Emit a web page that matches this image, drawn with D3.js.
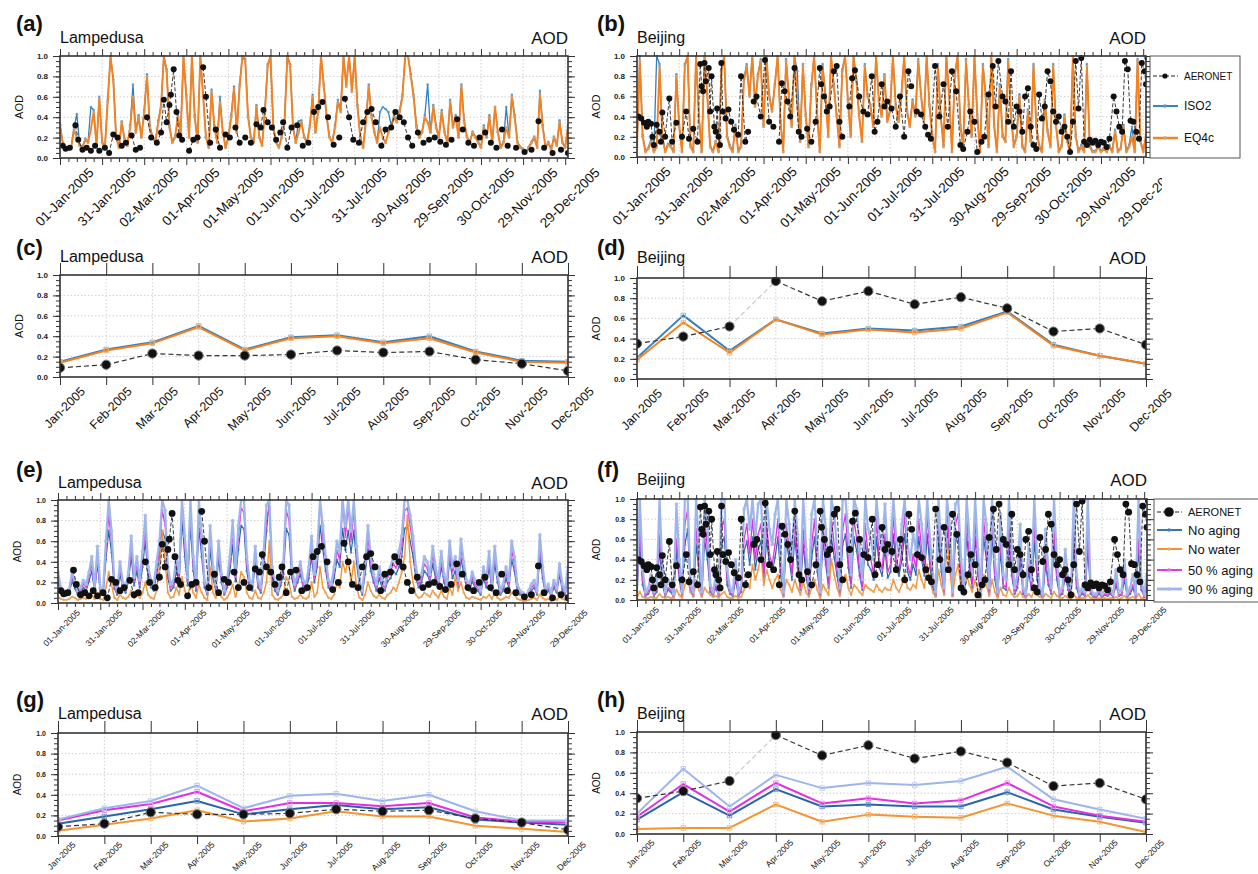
<!DOCTYPE html>
<html><head><meta charset="utf-8">
<script src="https://cdn.jsdelivr.net/npm/d3@7"></script>
<style>
body{margin:0;background:#fff}
svg{display:block}
text{font-family:"Liberation Sans",Arial,Helvetica,sans-serif}
</style></head>
<body><svg id="c" width="1258" height="874"></svg>
<script>
// ---------------- DATA ----------------
const months = ["Jan-2005","Feb-2005","Mar-2005","Apr-2005","May-2005","Jun-2005","Jul-2005","Aug-2005","Sep-2005","Oct-2005","Nov-2005","Dec-2005"];
const tickDays = [1,31,61,91,121,151,181,211,241,271,301,331,361];
const tickDates = ["01-Jan-2005","31-Jan-2005","02-Mar-2005","01-Apr-2005","01-May-2005","01-Jun-2005","01-Jul-2005","31-Jul-2005","30-Aug-2005","29-Sep-2005","30-Oct-2005","29-Nov-2005","29-Dec-2005"];
const yTicks = [0,0.2,0.4,0.6,0.8,1.0];

// Monthly means
const lampAeronetMonthly = [0.09,0.12,0.23,0.21,0.21,0.22,0.26,0.24,0.25,0.17,0.13,0.06];
const lampISO2Monthly    = [0.15,0.27,0.34,0.50,0.27,0.39,0.41,0.34,0.40,0.25,0.16,0.15];
const lampEQ4cMonthly    = [0.14,0.26,0.33,0.49,0.26,0.38,0.40,0.33,0.38,0.24,0.15,0.14];
const beijAeronetMonthly = [0.35,0.42,0.52,0.97,0.77,0.87,0.74,0.81,0.70,0.47,0.50,0.34];
const beijAeronetFaintSegments = [2];
const beijISO2Monthly    = [0.21,0.63,0.28,0.59,0.45,0.50,0.48,0.52,0.67,0.34,0.23,0.15];
const beijEQ4cMonthly    = [0.19,0.56,0.26,0.59,0.44,0.49,0.46,0.50,0.66,0.33,0.23,0.15];

const lampNoAgingMonthly  = [0.12,0.19,0.26,0.34,0.21,0.26,0.30,0.26,0.28,0.16,0.13,0.11];
const lampNoWaterMonthly  = [0.05,0.11,0.17,0.25,0.14,0.17,0.24,0.19,0.19,0.10,0.07,0.04];
const lampAging50Monthly  = [0.15,0.25,0.31,0.43,0.24,0.32,0.32,0.29,0.32,0.18,0.14,0.13];
const lampAging90Monthly  = [0.16,0.27,0.34,0.49,0.27,0.39,0.41,0.34,0.40,0.24,0.15,0.15];
const beijNoAgingMonthly  = [0.14,0.41,0.18,0.44,0.27,0.29,0.27,0.27,0.41,0.24,0.17,0.11];
const beijNoWaterMonthly  = [0.05,0.06,0.06,0.29,0.12,0.19,0.17,0.16,0.30,0.18,0.12,0.02];
const beijAging50Monthly  = [0.17,0.49,0.22,0.50,0.30,0.35,0.30,0.33,0.50,0.27,0.18,0.12];
const beijAging90Monthly  = [0.20,0.64,0.27,0.58,0.45,0.50,0.48,0.52,0.66,0.34,0.24,0.15];

// Daily model values, every second day (day 1,3,5,...,365)
const lampEQ4cDaily = [
0.32,0.14,0.09,0.08,0.10,0.28,0.20,0.12,0.10,0.18,0.15,0.28,0.45,0.12,0.58,
0.15,0.10,0.55,1.00,0.75,0.20,0.10,0.35,0.18,0.12,0.30,0.60,0.25,0.40,0.20,
0.45,0.80,0.30,0.20,0.15,0.35,0.50,1.00,0.85,0.30,0.15,0.20,0.40,0.25,1.00,
0.60,0.20,1.00,0.40,0.15,1.00,0.60,0.20,0.10,0.65,0.30,0.15,0.55,0.25,0.10,
0.20,0.40,0.68,0.25,0.70,1.00,0.95,0.40,0.20,0.15,0.50,0.20,0.12,0.45,0.90,
1.00,0.30,0.15,0.10,0.20,0.35,1.00,0.90,0.30,0.15,0.25,0.35,0.20,0.15,0.30,
0.60,0.25,0.45,1.00,0.70,0.40,0.20,0.15,0.30,0.55,0.45,1.00,0.70,1.00,0.65,
1.00,0.50,0.20,0.10,0.35,0.70,0.40,0.25,0.15,0.30,0.20,0.15,0.25,0.30,0.40,
0.35,0.45,0.60,1.00,1.00,0.80,0.60,0.30,0.20,0.25,0.40,0.35,0.25,0.50,0.30,
0.20,0.45,0.25,0.15,0.55,0.30,0.40,0.20,0.70,0.35,0.20,0.15,0.25,0.20,0.15,
0.10,0.30,0.20,0.40,0.15,0.50,0.25,0.10,0.15,0.30,0.20,0.60,0.40,0.15,0.10,
0.08,0.05,0.10,0.15,0.20,0.10,0.62,0.30,0.10,0.15,0.08,0.20,0.12,0.35,0.15,
0.10,0.30,0.12];
const lampISO2Daily = [
0.33,0.15,0.10,0.09,0.11,0.30,0.43,0.13,0.11,0.19,0.16,0.50,0.47,0.13,0.60,
0.16,0.11,0.57,1.00,0.77,0.22,0.11,0.36,0.19,0.13,0.32,0.72,0.27,0.42,0.21,
0.47,0.82,0.32,0.21,0.16,0.37,0.52,1.00,0.87,0.32,0.16,0.21,0.42,0.26,1.00,
0.62,0.21,1.00,0.42,0.16,1.00,0.62,0.21,0.11,0.67,0.32,0.16,0.60,0.26,0.11,
0.21,0.42,0.70,0.26,0.72,1.00,0.97,0.42,0.21,0.16,0.52,0.21,0.13,0.47,0.92,
1.00,0.32,0.16,0.11,0.21,0.37,1.00,0.92,0.32,0.16,0.36,0.37,0.21,0.16,0.32,
0.62,0.26,0.47,1.00,0.72,0.42,0.21,0.16,0.32,0.57,0.47,1.00,0.72,1.00,0.67,
1.00,0.52,0.21,0.11,0.37,0.72,0.42,0.26,0.16,0.45,0.50,0.48,0.45,0.32,0.42,
0.37,0.47,0.62,1.00,1.00,0.82,0.62,0.32,0.21,0.26,0.42,0.72,0.26,0.52,0.32,
0.21,0.47,0.26,0.16,0.57,0.32,0.42,0.21,0.72,0.37,0.21,0.16,0.26,0.21,0.16,
0.11,0.32,0.21,0.42,0.15,0.50,0.26,0.11,0.16,0.50,0.21,0.62,0.42,0.16,0.11,
0.09,0.06,0.11,0.16,0.21,0.11,0.66,0.32,0.11,0.16,0.09,0.21,0.13,0.37,0.16,
0.11,0.32,0.13];
const beijEQ4cDaily = [
0.10,0.95,0.20,0.05,0.08,0.15,0.05,0.10,0.90,0.20,0.05,0.12,0.10,0.05,0.80,
0.30,0.05,0.90,1.00,0.10,0.05,1.00,0.40,0.05,1.00,0.60,0.10,0.05,0.15,0.05,
0.85,1.00,0.20,0.10,0.05,0.30,0.05,0.10,0.75,0.90,0.60,1.00,0.50,0.80,0.95,
0.30,1.00,0.60,0.45,0.70,1.00,0.35,0.05,0.95,0.60,0.30,1.00,0.55,0.15,0.90,
0.40,0.10,0.70,1.00,0.45,0.05,0.90,0.60,0.20,1.00,0.70,0.40,0.10,0.85,1.00,
0.55,0.20,1.00,0.75,0.40,0.15,0.90,0.60,0.50,0.30,1.00,0.55,0.40,0.80,0.35,
0.45,1.00,0.50,0.35,0.60,1.00,0.45,0.30,0.55,0.40,0.95,0.60,0.35,1.00,0.50,
0.20,0.05,0.90,0.40,0.10,1.00,0.60,0.05,0.80,1.00,0.30,0.10,0.95,0.50,0.20,
1.00,0.40,0.05,0.90,0.60,0.10,1.00,0.30,0.05,0.70,0.20,0.15,0.95,0.40,0.10,
0.20,0.60,0.10,0.05,0.45,0.15,0.90,0.30,0.10,0.05,0.55,0.25,0.10,0.90,0.30,
0.05,0.10,0.40,0.15,0.05,1.00,0.20,0.05,0.10,0.05,0.90,0.10,0.05,0.05,0.10,
0.05,0.08,0.05,0.10,0.05,0.25,0.05,0.08,0.30,0.05,0.10,0.20,0.05,0.95,0.15,
0.05,0.20,0.10];
const beijISO2Daily = [
0.12,1.00,0.22,0.06,0.09,0.18,0.06,1.00,0.92,0.22,0.06,0.13,0.11,0.06,0.82,
0.32,0.06,0.92,1.00,0.12,0.06,1.00,0.42,0.06,1.00,0.62,0.12,0.06,0.16,0.06,
0.87,1.00,0.22,0.12,0.06,0.32,0.06,0.12,0.77,0.92,0.62,1.00,0.52,0.82,0.97,
0.32,1.00,0.62,0.47,0.72,1.00,0.37,0.06,0.97,0.62,0.32,1.00,0.85,0.16,0.92,
0.42,0.12,0.72,1.00,0.47,0.06,0.92,0.62,0.22,1.00,0.72,0.42,0.12,0.87,1.00,
0.57,0.22,1.00,0.77,0.42,0.16,0.92,0.62,0.52,0.32,1.00,0.57,0.42,0.82,0.37,
0.47,1.00,0.52,0.37,0.62,1.00,0.47,0.32,0.57,0.42,0.97,0.62,0.37,1.00,0.52,
0.22,0.06,0.92,0.42,0.12,1.00,0.62,0.06,0.82,1.00,0.32,0.12,0.97,0.52,0.22,
1.00,0.42,0.06,0.92,0.62,0.12,1.00,0.32,0.06,0.72,0.22,0.16,0.97,0.42,0.12,
0.22,0.62,0.12,0.06,0.47,0.16,0.92,0.32,0.12,0.06,0.57,0.27,0.12,0.92,0.32,
0.06,0.12,0.42,0.16,0.06,1.00,0.22,0.06,0.12,0.06,0.92,0.12,0.06,0.06,0.12,
0.06,0.09,0.06,0.12,0.06,0.27,0.06,0.09,0.32,0.06,0.12,0.30,0.06,0.97,0.17,
0.06,0.22,0.12];

const lampAging90Daily = [
0.30,0.15,0.12,0.10,0.14,0.30,0.20,0.12,0.15,0.22,0.18,0.30,0.45,0.15,0.55,
0.15,0.12,0.60,1.00,0.70,0.20,0.12,0.40,0.20,0.15,0.30,0.65,0.25,0.45,0.22,
0.50,0.85,0.35,0.22,0.18,0.40,0.60,1.00,0.90,0.35,0.18,0.22,0.45,0.30,1.00,
0.65,0.25,1.00,0.45,0.18,1.00,0.65,0.22,0.12,0.75,0.35,0.18,0.60,0.28,0.12,
0.22,0.45,0.80,0.30,0.75,1.00,1.00,0.45,0.22,0.18,0.55,0.22,0.15,0.50,0.95,
1.00,0.35,0.18,0.12,0.25,0.40,1.00,0.95,0.35,0.18,0.28,0.40,0.22,0.18,0.35,
0.65,0.28,0.50,1.00,0.75,0.45,0.22,0.18,0.35,0.60,0.50,1.00,0.75,1.00,0.70,
1.00,0.55,0.22,0.12,0.40,0.75,0.45,0.28,0.18,0.35,0.22,0.18,0.30,0.35,0.45,
0.40,0.50,0.65,1.00,1.00,0.85,0.65,0.35,0.22,0.28,0.45,0.40,0.28,0.55,0.35,
0.22,0.50,0.28,0.18,0.60,0.35,0.45,0.22,0.62,0.40,0.22,0.18,0.30,0.22,0.18,
0.12,0.35,0.22,0.50,0.18,0.55,0.28,0.12,0.18,0.35,0.22,0.60,0.45,0.18,0.12,
0.10,0.06,0.12,0.18,0.22,0.12,0.66,0.35,0.12,0.18,0.10,0.22,0.14,0.38,0.18,
0.12,0.35,0.15];
const lampAging50Daily = [
0.26,0.12,0.10,0.08,0.12,0.25,0.17,0.10,0.12,0.19,0.15,0.26,0.38,0.12,0.46,
0.12,0.10,0.50,0.85,0.60,0.17,0.10,0.34,0.17,0.12,0.25,0.55,0.21,0.38,0.18,
0.42,0.72,0.30,0.18,0.15,0.34,0.51,0.90,0.76,0.30,0.15,0.18,0.38,0.25,1.00,
0.55,0.21,0.90,0.38,0.15,0.90,0.55,0.18,0.10,0.64,0.30,0.15,0.51,0.24,0.10,
0.18,0.38,0.68,0.25,0.64,0.92,0.88,0.38,0.18,0.15,0.47,0.18,0.12,0.42,0.82,
0.92,0.30,0.15,0.10,0.21,0.34,0.90,0.80,0.30,0.15,0.24,0.34,0.18,0.15,0.30,
0.55,0.24,0.42,1.00,0.64,0.38,0.18,0.15,0.30,0.51,0.42,1.00,0.64,0.95,0.60,
0.90,0.47,0.18,0.10,0.34,0.64,0.38,0.24,0.15,0.30,0.18,0.15,0.25,0.30,0.38,
0.34,0.42,0.55,0.90,0.92,0.75,0.55,0.30,0.18,0.24,0.38,0.34,0.24,0.47,0.30,
0.18,0.42,0.24,0.15,0.51,0.30,0.38,0.18,0.53,0.34,0.18,0.15,0.25,0.18,0.15,
0.10,0.30,0.18,0.42,0.15,0.47,0.24,0.10,0.15,0.30,0.18,0.51,0.38,0.15,0.10,
0.08,0.05,0.10,0.15,0.18,0.10,0.56,0.30,0.10,0.15,0.08,0.18,0.12,0.32,0.15,
0.10,0.30,0.12];
const lampNoAgingDaily = [
0.21,0.10,0.08,0.07,0.10,0.21,0.14,0.08,0.10,0.15,0.12,0.21,0.31,0.10,0.38,
0.10,0.08,0.42,0.70,0.49,0.14,0.08,0.28,0.14,0.10,0.21,0.45,0.17,0.31,0.15,
0.35,0.60,0.24,0.15,0.12,0.28,0.42,0.70,0.63,0.24,0.12,0.15,0.31,0.21,0.80,
0.45,0.17,0.75,0.31,0.12,0.72,0.45,0.15,0.08,0.52,0.24,0.12,0.42,0.20,0.08,
0.15,0.31,0.56,0.21,0.52,0.75,0.72,0.31,0.15,0.12,0.38,0.15,0.10,0.35,0.70,
1.00,0.24,0.12,0.08,0.17,0.28,0.72,0.66,0.24,0.12,0.20,0.28,0.15,0.12,0.24,
0.45,0.20,0.35,0.75,0.52,0.31,0.15,0.12,0.24,0.42,0.35,0.72,0.52,0.70,0.49,
0.70,0.38,0.15,0.08,0.28,0.52,0.31,0.20,0.12,0.24,0.15,0.12,0.21,0.24,0.31,
0.28,0.35,0.45,0.72,0.75,0.60,0.45,0.24,0.15,0.20,0.31,0.28,0.20,0.38,0.24,
0.15,0.35,0.20,0.12,0.42,0.24,0.31,0.15,0.43,0.28,0.15,0.12,0.21,0.15,0.12,
0.08,0.24,0.15,0.35,0.12,0.38,0.20,0.08,0.12,0.24,0.15,0.42,0.31,0.12,0.08,
0.07,0.04,0.08,0.12,0.15,0.08,0.46,0.24,0.08,0.12,0.07,0.15,0.10,0.27,0.12,
0.08,0.24,0.10];
const lampNoWaterDaily = [
0.06,0.04,0.03,0.03,0.04,0.06,0.05,0.03,0.04,0.05,0.04,0.06,0.08,0.04,0.10,
0.04,0.03,0.15,0.30,0.18,0.05,0.03,0.08,0.05,0.04,0.06,0.12,0.05,0.08,0.05,
0.10,0.20,0.08,0.05,0.04,0.12,0.35,0.70,0.40,0.10,0.05,0.06,0.15,0.08,0.25,
0.12,0.05,0.20,0.10,0.05,0.18,0.10,0.05,0.03,0.35,0.10,0.05,0.12,0.06,0.03,
0.05,0.10,0.18,0.06,0.15,0.30,0.25,0.10,0.05,0.04,0.12,0.05,0.04,0.10,0.20,
0.60,0.08,0.04,0.03,0.05,0.08,0.25,0.20,0.06,0.04,0.05,0.08,0.05,0.04,0.06,
0.20,0.06,0.10,0.35,0.15,0.10,0.05,0.04,0.08,0.20,0.15,0.40,0.30,0.42,0.20,
0.40,0.15,0.05,0.03,0.08,0.20,0.12,0.07,0.05,0.08,0.05,0.04,0.08,0.10,0.15,
0.12,0.20,0.30,0.45,0.85,0.40,0.20,0.08,0.05,0.06,0.10,0.08,0.06,0.12,0.08,
0.05,0.12,0.06,0.04,0.15,0.08,0.25,0.12,0.20,0.10,0.05,0.04,0.06,0.05,0.04,
0.03,0.06,0.05,0.08,0.04,0.10,0.05,0.03,0.04,0.06,0.05,0.10,0.08,0.04,0.03,
0.02,0.02,0.03,0.04,0.05,0.03,0.08,0.05,0.03,0.04,0.02,0.05,0.03,0.06,0.04,
0.03,0.05,0.03];

const beijAging90Daily = [
0.15,1.00,0.30,0.08,0.12,0.25,0.08,0.15,1.00,0.30,0.08,0.20,0.15,0.06,0.95,
0.40,0.08,1.00,1.00,0.15,0.08,1.00,0.55,0.08,1.00,0.75,0.15,0.08,0.25,0.08,
1.00,1.00,0.30,0.12,0.08,0.40,0.08,0.15,0.90,1.00,0.70,1.00,0.60,0.95,1.00,
0.40,1.00,0.70,0.55,0.85,1.00,0.45,0.08,1.00,0.75,0.40,1.00,0.65,0.20,1.00,
0.50,0.12,0.85,1.00,0.55,0.08,1.00,0.70,0.25,1.00,0.85,0.50,0.12,1.00,1.00,
0.65,0.25,1.00,0.90,0.50,0.20,1.00,0.70,0.60,0.40,1.00,0.65,0.50,0.95,0.45,
0.55,1.00,0.60,0.45,0.75,1.00,0.55,0.40,0.65,0.50,1.00,0.75,0.45,1.00,0.60,
0.25,0.08,1.00,0.50,0.12,1.00,0.75,0.08,0.95,1.00,0.40,0.12,1.00,0.60,0.25,
1.00,0.50,0.06,1.00,0.75,0.12,1.00,0.40,0.08,0.85,0.25,0.20,1.00,0.50,0.12,
0.25,0.75,0.12,0.06,0.55,0.20,1.00,0.40,0.12,0.06,0.70,0.30,0.12,1.00,0.40,
0.08,0.12,0.50,0.20,0.06,1.00,0.25,0.06,0.12,0.08,1.00,0.12,0.06,0.06,0.12,
0.06,0.10,0.08,0.12,0.06,0.30,0.08,0.10,0.40,0.06,0.12,0.25,0.06,1.00,0.20,
0.06,0.25,0.12];
const beijAging50Daily = [
0.10,0.70,0.20,0.05,0.08,0.15,0.05,0.10,0.65,0.20,0.05,0.12,0.10,0.04,0.60,
0.25,0.05,0.75,0.90,0.10,0.05,0.70,0.35,0.05,0.80,0.50,0.10,0.05,0.15,0.05,
0.70,0.80,0.20,0.08,0.05,0.25,0.05,0.10,0.60,0.75,0.45,0.80,0.40,0.65,0.75,
0.25,0.75,0.45,0.35,0.55,0.80,0.30,0.05,0.75,0.50,0.25,0.80,0.40,0.12,0.70,
0.30,0.08,0.55,0.80,0.35,0.05,0.75,0.45,0.15,0.80,0.55,0.30,0.08,0.70,0.85,
0.40,0.15,0.80,0.60,0.30,0.12,0.75,0.45,0.40,0.25,0.80,0.40,0.30,0.65,0.28,
0.35,0.85,0.40,0.30,0.50,0.85,0.35,0.25,0.45,0.32,0.80,0.50,0.30,0.85,0.40,
0.15,0.05,0.80,0.35,0.08,0.90,0.50,0.05,0.75,0.85,0.25,0.08,0.85,0.40,0.15,
0.80,0.30,0.04,0.80,0.50,0.08,0.85,0.25,0.05,0.60,0.15,0.12,0.75,0.30,0.08,
0.15,0.50,0.08,0.04,0.35,0.12,0.75,0.25,0.08,0.04,0.45,0.18,0.08,0.70,0.25,
0.05,0.08,0.30,0.12,0.04,0.70,0.15,0.04,0.08,0.05,0.65,0.08,0.04,0.04,0.08,
0.04,0.06,0.05,0.08,0.04,0.18,0.05,0.06,0.25,0.04,0.08,0.15,0.04,0.60,0.12,
0.04,0.15,0.08];
const beijNoAgingDaily = [
0.08,0.55,0.15,0.04,0.06,0.12,0.04,0.08,0.50,0.15,0.04,0.10,0.08,0.03,0.48,
0.20,0.04,0.55,0.70,0.08,0.04,0.55,0.28,0.04,0.60,0.40,0.08,0.04,0.12,0.04,
0.55,0.62,0.15,0.06,0.04,0.20,0.04,0.08,0.48,0.58,0.35,0.62,0.30,0.50,0.58,
0.20,0.60,0.35,0.28,0.42,0.62,0.24,0.04,0.58,0.40,0.20,0.62,0.32,0.10,0.55,
0.24,0.06,0.42,0.62,0.28,0.04,0.58,0.35,0.12,0.62,0.42,0.24,0.06,0.55,0.65,
0.32,0.12,0.62,0.48,0.24,0.10,0.58,0.35,0.30,0.20,0.62,0.32,0.24,0.50,0.22,
0.28,0.65,0.32,0.24,0.40,0.65,0.28,0.20,0.35,0.25,0.62,0.40,0.24,0.65,0.32,
0.12,0.04,0.62,0.28,0.06,0.70,0.40,0.04,0.58,0.65,0.20,0.06,0.65,0.32,0.12,
0.62,0.24,0.03,0.62,0.40,0.06,0.65,0.20,0.04,0.48,0.12,0.10,0.58,0.24,0.06,
0.12,0.40,0.06,0.03,0.28,0.10,0.58,0.20,0.06,0.03,0.35,0.15,0.06,0.55,0.20,
0.04,0.06,0.24,0.10,0.03,0.55,0.12,0.03,0.06,0.04,0.50,0.06,0.03,0.03,0.06,
0.03,0.05,0.04,0.06,0.03,0.15,0.04,0.05,0.20,0.03,0.06,0.12,0.03,0.48,0.10,
0.03,0.12,0.06];
const beijNoWaterDaily = [
0.02,0.08,0.03,0.02,0.02,0.03,0.02,0.02,0.06,0.03,0.02,0.03,0.02,0.02,0.10,
0.05,0.02,0.15,0.20,0.08,0.03,0.18,0.10,0.03,0.12,0.08,0.05,0.03,0.04,0.02,
0.06,0.08,0.03,0.02,0.02,0.04,0.02,0.03,0.10,0.15,0.12,0.35,0.20,0.30,0.45,
0.15,0.30,0.20,0.12,0.20,0.25,0.10,0.03,0.20,0.15,0.08,0.20,0.12,0.05,0.18,
0.08,0.03,0.12,0.20,0.10,0.02,0.15,0.10,0.05,0.40,0.25,0.12,0.04,0.20,0.25,
0.12,0.05,0.15,0.12,0.08,0.05,0.15,0.12,0.10,0.08,0.15,0.10,0.08,0.12,0.10,
0.10,0.20,0.12,0.08,0.15,0.25,0.12,0.10,0.15,0.12,0.30,0.20,0.12,0.35,0.18,
0.08,0.03,0.30,0.15,0.05,0.60,0.30,0.04,0.25,0.35,0.12,0.05,0.25,0.15,0.08,
0.20,0.10,0.02,0.25,0.15,0.04,0.20,0.08,0.02,0.12,0.05,0.04,0.12,0.06,0.03,
0.04,0.08,0.03,0.02,0.06,0.03,0.10,0.05,0.03,0.02,0.06,0.04,0.02,0.08,0.04,
0.02,0.02,0.04,0.02,0.01,0.06,0.02,0.01,0.02,0.02,0.05,0.02,0.01,0.01,0.02,
0.01,0.02,0.01,0.02,0.01,0.03,0.01,0.02,0.04,0.01,0.02,0.03,0.01,0.06,0.02,
0.01,0.03,0.02];

// AERONET daily observations [day of year, AOD]
const lampAeronetDaily = [
[3,0.12],[5,0.09],[8,0.10],[12,0.32],[14,0.18],[17,0.08],[20,0.10],[23,0.07],[26,0.12],[29,0.07],
[33,0.10],[36,0.05],[39,0.23],[42,0.20],[45,0.12],[48,0.15],[52,0.22],[55,0.08],[58,0.10],[63,0.40],
[66,0.20],[70,0.15],[73,0.25],[75,0.57],[77,0.35],[79,0.52],[80,0.62],[82,0.87],[84,0.45],[86,0.22],
[88,0.18],[93,0.07],[96,0.18],[99,0.20],[103,0.89],[105,0.60],[108,0.15],[112,0.28],[115,0.10],[119,0.23],
[122,0.20],[126,0.30],[129,0.15],[133,0.20],[137,0.15],[141,0.33],[144,0.30],[146,0.47],[149,0.35],[152,0.30],
[155,0.18],[158,0.25],[160,0.35],[163,0.10],[166,0.30],[170,0.32],[174,0.12],[178,0.15],[182,0.45],[185,0.50],
[188,0.55],[192,0.40],[196,0.13],[200,0.20],[204,0.58],[207,0.40],[210,0.18],[214,0.15],[217,0.35],[220,0.45],
[223,0.48],[226,0.35],[230,0.12],[233,0.28],[237,0.30],[240,0.45],[243,0.40],[246,0.35],[249,0.20],[252,0.12],
[256,0.25],[260,0.15],[264,0.18],[268,0.20],[272,0.16],[276,0.13],[280,0.18],[284,0.38],[288,0.28],[292,0.15],
[296,0.12],[300,0.20],[304,0.25],[308,0.15],[312,0.10],[316,0.28],[320,0.12],[326,0.10],[332,0.06],[337,0.08],
[342,0.36],[346,0.10],[352,0.05],[358,0.08],[363,0.05]];
const beijAeronetDaily = [
[2,0.40],[4,0.38],[6,0.34],[8,0.30],[9,0.35],[11,0.33],[12,0.20],[13,0.12],[15,0.32],[17,0.25],[18,0.15],[19,0.44],[21,0.20],[24,0.58],[26,0.15],[29,0.34],
[33,0.20],[36,0.45],[38,0.18],[41,0.28],[44,0.15],[46,0.92],[47,0.70],[48,0.65],[49,0.93],[50,0.75],[52,0.88],[53,0.45],[54,0.80],[56,0.30],[57,0.25],[58,0.48],[59,0.20],
[60,0.12],[61,0.93],[62,0.45],[64,0.38],[66,0.47],[68,0.35],[70,0.27],[73,0.22],[75,0.80],[78,0.15],[80,0.25],[84,0.55],[86,0.60],[89,0.40],
[92,0.96],[95,0.35],[98,0.30],[102,0.15],[104,0.73],[106,0.65],[108,0.55],[110,0.40],[113,0.88],[116,0.25],[118,0.20],
[122,0.28],[125,0.15],[128,0.35],[131,0.88],[132,0.72],[134,0.60],[136,0.45],[138,0.50],[141,0.85],[143,0.90],[145,0.35],[147,0.20],
[152,0.50],[154,0.78],[156,0.86],[159,0.60],[162,0.45],[165,0.42],[168,0.80],[170,0.25],[172,0.35],[175,0.72],[177,0.50],[179,0.55],
[182,0.48],[185,0.30],[188,0.60],[191,0.20],[194,0.85],[196,0.70],[200,0.45],[203,0.42],[206,0.30],[208,0.22],[210,0.18],
[213,0.90],[216,0.40],[219,0.72],[222,0.30],[225,0.85],[228,0.65],[231,0.12],[233,0.08],[236,0.25],[238,0.45],
[241,0.35],[243,0.05],[246,0.15],[248,0.20],[251,0.62],[254,0.90],[256,0.50],[258,0.95],[261,0.60],[263,0.55],[265,0.35],[267,0.85],[269,0.30],
[271,0.50],[273,0.45],[275,0.25],[277,0.60],[279,0.68],[281,0.30],[283,0.12],[285,0.08],[287,0.62],[289,0.38],[291,0.50],[293,0.85],[295,0.75],[297,0.45],[299,0.35],
[301,0.40],[303,0.25],[305,0.30],[307,0.20],[309,0.05],[311,0.35],[313,0.95],[315,0.48],[317,0.98],[319,0.15],[321,0.12],[323,0.17],[325,0.14],[327,0.16],[329,0.12],
[331,0.15],[333,0.14],[335,0.10],[337,0.18],[340,0.60],[342,0.45],[344,0.30],[346,0.25],[348,0.95],[350,0.87],[352,0.36],[354,0.35],[356,0.25],[358,0.18],[360,0.93],[362,0.85],[363,0.72],[364,0.98]];

// ---------------- STYLES ----------------
const C = {
  iso2:{color:"#2f7fc1", mk:"#5b95c8", w:1.3, r:1.3},
  eq4c:{color:"#f5821f", mk:"#c9a078", w:1.9, r:1.5},
  noAging:{color:"#2a64a8", mk:"#4a7fbf", w:1.2, r:1.3},
  noWater:{color:"#f39433", mk:"#e7a86a", w:1.4, r:1.3},
  aging50:{color:"#e22fe0", mk:"#d86fd8", w:1.3, r:1.2},
  aging90:{color:"#9db5ea", mk:"#a9bce6", w:2.2, r:1.9}
};

// ---------------- DRAW ----------------
const svg = d3.select("#c");
const defs = svg.append("defs");
defs.append("clipPath").attr("id","leftClip").append("rect").attr("x",0).attr("y",0).attr("width",600).attr("height",874);
defs.append("clipPath").attr("id","bClip").append("rect").attr("x",590).attr("y",0).attr("width",572).attr("height",874);

function styleAxis(sel){
  sel.select(".domain").remove();
  sel.selectAll("line").attr("stroke","#333").attr("stroke-width",1);
}

function drawDaily(g,x,y,vals,st){
  const pts = vals.map((v,i)=>[1+2*i,v]);
  g.append("path").datum(pts)
    .attr("d",d3.line().x(d=>x(d[0])).y(d=>y(d[1])))
    .attr("fill","none").attr("stroke",st.color).attr("stroke-width",st.w).attr("stroke-linejoin","round");
  g.append("g").selectAll("circle").data(pts).join("circle")
    .attr("cx",d=>x(d[0])).attr("cy",d=>y(d[1])).attr("r",st.r).attr("fill",st.mk).attr("opacity",0.85);
}
function drawAeronetDaily(g,x,y,pairs,r){
  const segs=[]; let cur=[pairs[0]];
  for(let i=1;i<pairs.length;i++){
    if(pairs[i][0]-pairs[i-1][0]<=3) cur.push(pairs[i]); else {segs.push(cur); cur=[pairs[i]];}
  }
  segs.push(cur);
  g.append("g").selectAll("path").data(segs.filter(s=>s.length>1)).join("path")
    .attr("d",d3.line().x(d=>x(d[0])).y(d=>y(d[1])))
    .attr("fill","none").attr("stroke","#222").attr("stroke-width",0.9).attr("stroke-dasharray","4,2");
  g.append("g").selectAll("circle").data(pairs).join("circle")
    .attr("cx",d=>x(d[0])).attr("cy",d=>y(d[1])).attr("r",r).attr("fill","#111");
}
function drawMonthly(g,x,y,vals,st){
  const pts = vals.map((v,i)=>[months[i],v]);
  g.append("path").datum(pts)
    .attr("d",d3.line().x(d=>x(d[0])).y(d=>y(d[1])))
    .attr("fill","none").attr("stroke",st.color).attr("stroke-width",2).attr("stroke-linejoin","round");
  g.append("g").selectAll("rect").data(pts).join("rect")
    .attr("x",d=>x(d[0])-2.2).attr("y",d=>y(d[1])-2.2).attr("width",4.4).attr("height",4.4)
    .attr("fill","none").attr("stroke",st.mk).attr("stroke-width",0.9);
}
function drawAeronetMonthly(g,x,y,vals,faint){
  for(let i=0;i<vals.length-1;i++){
    g.append("line").attr("x1",x(months[i])).attr("y1",y(vals[i])).attr("x2",x(months[i+1])).attr("y2",y(vals[i+1]))
      .attr("stroke",faint.includes(i)?"#c8c8c8":"#333").attr("stroke-width",1.2).attr("stroke-dasharray","5,3");
  }
  g.append("g").selectAll("circle").data(vals).join("circle")
    .attr("cx",(d,i)=>x(months[i])).attr("cy",d=>y(d)).attr("r",4.6)
    .attr("fill","#111").attr("stroke","#777").attr("stroke-width",1);
}

function panel(p){
  const g = svg.append("g").attr("clip-path", p.clip ? `url(#${p.clip})` : null);
  const y = d3.scaleLinear().domain([0,1]).range([p.bottom,p.top]);
  const x = p.kind==="daily" ? d3.scaleLinear().domain([1,363]).range([p.left,p.right])
                             : d3.scalePoint().domain(months).range([p.left,p.right]);
  // grid
  const grid = g.append("g").attr("stroke","#c4c4c4").attr("stroke-width",0.8).attr("stroke-dasharray","1.5,2");
  [0.2,0.4,0.6,0.8].forEach(v=>grid.append("line").attr("x1",p.left).attr("x2",p.right).attr("y1",y(v)).attr("y2",y(v)));
  (p.kind==="daily"?tickDays:months).forEach(v=>grid.append("line").attr("x1",x(v)).attr("x2",x(v)).attr("y1",p.top).attr("y2",p.bottom));
  // data
  const cid = "clip_"+p.tag;
  defs.append("clipPath").attr("id",cid).append("rect").attr("x",p.left).attr("y",p.top-1).attr("width",p.right-p.left).attr("height",p.bottom-p.top+2);
  const dg = g.append("g").attr("clip-path",`url(#${cid})`);
  p.draw(dg,x,y);
  // frame
  g.append("rect").attr("x",p.left).attr("y",p.top).attr("width",p.right-p.left).attr("height",p.bottom-p.top)
    .attr("fill","none").attr("stroke","#333").attr("stroke-width",1.6);
  // y axes
  const minorY = d3.range(0,1.0001,0.05);
  const yl = g.append("g").attr("transform",`translate(${p.left},0)`)
    .call(d3.axisLeft(y).tickValues(yTicks).tickSize(7).tickPadding(5).tickFormat(d3.format(".1f")));
  styleAxis(yl);
  yl.selectAll("text").attr("font-size",p.ytf).attr("fill","#222").attr("font-weight","bold");
  styleAxis(g.append("g").attr("transform",`translate(${p.left},0)`).call(d3.axisLeft(y).tickValues(minorY).tickSize(4).tickFormat("")));
  styleAxis(g.append("g").attr("transform",`translate(${p.right},0)`).call(d3.axisRight(y).tickValues(yTicks).tickSize(7).tickFormat("")));
  styleAxis(g.append("g").attr("transform",`translate(${p.right},0)`).call(d3.axisRight(y).tickValues(minorY).tickSize(4).tickFormat("")));
  // x axes
  let xb;
  if(p.kind==="daily"){
    xb = g.append("g").attr("transform",`translate(0,${p.bottom})`)
      .call(d3.axisBottom(x).tickValues(tickDays).tickSize(7).tickFormat((d,i)=>tickDates[i]));
    const minorX = d3.range(1,363,6).filter(d=>!tickDays.includes(d));
    styleAxis(g.append("g").attr("transform",`translate(0,${p.bottom})`).call(d3.axisBottom(x).tickValues(minorX).tickSize(4).tickFormat("")));
    styleAxis(g.append("g").attr("transform",`translate(0,${p.top})`).call(d3.axisTop(x).tickValues(minorX).tickSize(4).tickFormat("")));
    styleAxis(g.append("g").attr("transform",`translate(0,${p.top})`).call(d3.axisTop(x).tickValues(tickDays).tickSize(7).tickFormat("")));
  } else {
    xb = g.append("g").attr("transform",`translate(0,${p.bottom})`)
      .call(d3.axisBottom(x).tickSize(8));
    styleAxis(g.append("g").attr("transform",`translate(0,${p.top})`).call(d3.axisTop(x).tickSize(12).tickFormat("")));
  }
  styleAxis(xb);
  xb.selectAll("text").attr("font-size",p.xtf).attr("fill","#111")
    .each(function(){
      const L = this.getComputedTextLength();
      d3.select(this).attr("text-anchor","middle").attr("y",0).attr("dy","0.35em")
        .attr("transform",`translate(${p.xshift},${p.xoff + L*0.3536}) rotate(-45)`);
    });
  // labels
  const ly = (p.top+p.bottom)/2;
  g.append("text").attr("transform",`translate(${p.left-41},${ly}) rotate(-90)`).attr("text-anchor","middle")
    .attr("dy","0.35em").attr("font-size",p.ylf).attr("fill","#111").text("AOD");
  svg.append("text").attr("x",p.col===0?16:597).attr("y",p.tagY).attr("font-size",22).attr("font-weight","bold").attr("fill","#111").text(`(${p.tag})`);
  g.append("text").attr("x",p.left).attr("y",p.titleY).attr("font-size",16).attr("fill","#111").text(p.station);
  g.append("text").attr("x",p.right).attr("y",p.titleY+1).attr("text-anchor","end").attr("font-size",17).attr("fill","#111").text("AOD");
}

const big = {ytf:8, ylf:11, xshift:4};
const small = {ytf:7, ylf:10, xshift:3};

panel(Object.assign({tag:"a",station:"Lampedusa",col:0,clip:"leftClip",kind:"daily",left:60,right:568,top:56,bottom:158,tagY:31,titleY:43,xtf:13.5,xoff:12},big,{draw:(g,x,y)=>{
  drawDaily(g,x,y,lampISO2Daily,C.iso2); drawDaily(g,x,y,lampEQ4cDaily,C.eq4c); drawAeronetDaily(g,x,y,lampAeronetDaily,3.0);}}));
panel(Object.assign({tag:"b",station:"Beijing",col:1,clip:"bClip",kind:"daily",left:637,right:1146,top:56,bottom:157,tagY:31,titleY:43,xtf:13.5,xoff:12},big,{draw:(g,x,y)=>{
  drawDaily(g,x,y,beijISO2Daily,C.iso2); drawDaily(g,x,y,beijEQ4cDaily,C.eq4c); drawAeronetDaily(g,x,y,beijAeronetDaily,3.0);}}));
panel(Object.assign({tag:"c",station:"Lampedusa",col:0,clip:"leftClip",kind:"monthly",left:60,right:568,top:275,bottom:377,tagY:255,titleY:262,xtf:12.5,xoff:12},big,{draw:(g,x,y)=>{
  drawMonthly(g,x,y,lampISO2Monthly,{color:C.iso2.color,mk:"#8fb4d8"}); drawMonthly(g,x,y,lampEQ4cMonthly,{color:C.eq4c.color,mk:"#e8b27c"}); drawAeronetMonthly(g,x,y,lampAeronetMonthly,[]);}}));
panel(Object.assign({tag:"d",station:"Beijing",col:1,kind:"monthly",left:637,right:1146,top:278,bottom:379,tagY:255,titleY:263,xtf:12.5,xoff:12},big,{draw:(g,x,y)=>{
  drawMonthly(g,x,y,beijISO2Monthly,{color:C.iso2.color,mk:"#8fb4d8"}); drawMonthly(g,x,y,beijEQ4cMonthly,{color:C.eq4c.color,mk:"#e8b27c"}); drawAeronetMonthly(g,x,y,beijAeronetMonthly,beijAeronetFaintSegments);}}));
panel(Object.assign({tag:"e",station:"Lampedusa",col:0,clip:"leftClip",kind:"daily",left:58,right:568,top:500,bottom:603,tagY:477,titleY:488,xtf:8.5,xoff:8},small,{draw:(g,x,y)=>{
  drawDaily(g,x,y,lampNoAgingDaily,C.noAging); drawDaily(g,x,y,lampNoWaterDaily,C.noWater); drawDaily(g,x,y,lampAging50Daily,C.aging50); drawDaily(g,x,y,lampAging90Daily,C.aging90); drawAeronetDaily(g,x,y,lampAeronetDaily,3.4);}}));
panel(Object.assign({tag:"f",station:"Beijing",col:1,kind:"daily",left:637,right:1147,top:499,bottom:600,tagY:477,titleY:485,xtf:8.5,xoff:8},small,{draw:(g,x,y)=>{
  drawDaily(g,x,y,beijNoAgingDaily,C.noAging); drawDaily(g,x,y,beijNoWaterDaily,C.noWater); drawDaily(g,x,y,beijAging50Daily,C.aging50); drawDaily(g,x,y,beijAging90Daily,C.aging90); drawAeronetDaily(g,x,y,beijAeronetDaily,3.4);}}));
panel(Object.assign({tag:"g",station:"Lampedusa",col:0,clip:"leftClip",kind:"monthly",left:58,right:568,top:733,bottom:836,tagY:707,titleY:719,xtf:8.5,xoff:7},small,{draw:(g,x,y)=>{
  drawMonthly(g,x,y,lampNoAgingMonthly,{color:C.noAging.color,mk:"#6f98c8"}); drawMonthly(g,x,y,lampNoWaterMonthly,{color:C.noWater.color,mk:"#f0b77a"});
  drawMonthly(g,x,y,lampAging50Monthly,{color:C.aging50.color,mk:"#e88be8"}); drawMonthly(g,x,y,lampAging90Monthly,{color:C.aging90.color,mk:"#b9c9ee"}); drawAeronetMonthly(g,x,y,lampAeronetMonthly,[]);}}));
panel(Object.assign({tag:"h",station:"Beijing",col:1,kind:"monthly",left:637,right:1146,top:732,bottom:834,tagY:707,titleY:719,xtf:8.5,xoff:7},small,{draw:(g,x,y)=>{
  drawMonthly(g,x,y,beijNoAgingMonthly,{color:C.noAging.color,mk:"#6f98c8"}); drawMonthly(g,x,y,beijNoWaterMonthly,{color:C.noWater.color,mk:"#f0b77a"});
  drawMonthly(g,x,y,beijAging50Monthly,{color:C.aging50.color,mk:"#e88be8"}); drawMonthly(g,x,y,beijAging90Monthly,{color:C.aging90.color,mk:"#b9c9ee"}); drawAeronetMonthly(g,x,y,beijAeronetMonthly,beijAeronetFaintSegments);}}));

// ---------------- LEGENDS ----------------
function legend(x0,y0,w,h,items,textX){
  const g = svg.append("g");
  g.append("rect").attr("x",x0).attr("y",y0).attr("width",w).attr("height",h).attr("fill","#fff").attr("stroke","#555").attr("stroke-width",1);
  items.forEach(it=>{
    if(it.aeronet){
      g.append("line").attr("x1",x0+3).attr("x2",x0+28).attr("y1",it.y).attr("y2",it.y).attr("stroke","#222").attr("stroke-width",1).attr("stroke-dasharray","4,2");
      g.append("circle").attr("cx",x0+15).attr("cy",it.y).attr("r",it.r).attr("fill","#111");
    } else {
      g.append("line").attr("x1",x0+3).attr("x2",x0+28).attr("y1",it.y).attr("y2",it.y).attr("stroke",it.st.color).attr("stroke-width",it.st.w+0.6);
      g.append("circle").attr("cx",x0+15).attr("cy",it.y).attr("r",1.8).attr("fill",it.st.mk);
    }
    g.append("text").attr("x",textX).attr("y",it.y).attr("dy","0.35em").attr("font-family","Lato, 'Open Sans', sans-serif")
      .attr("font-size",it.fs).attr("fill","#111").text(it.label);
  });
}
legend(1150,56,90,102,[
  {label:"AERONET",aeronet:true,r:2.6,y:76,fs:10},
  {label:"ISO2",st:C.iso2,y:106,fs:12},
  {label:"EQ4c",st:C.eq4c,y:138,fs:12}],1184);
legend(1154,499,110,103,[
  {label:"AERONET",aeronet:true,r:4.8,y:512,fs:11},
  {label:"No aging",st:C.noAging,y:530,fs:13},
  {label:"No water",st:C.noWater,y:549,fs:13},
  {label:"50 % aging",st:C.aging50,y:570,fs:13},
  {label:"90 % aging",st:C.aging90,y:589,fs:13}],1188);
</script>
</body></html>
